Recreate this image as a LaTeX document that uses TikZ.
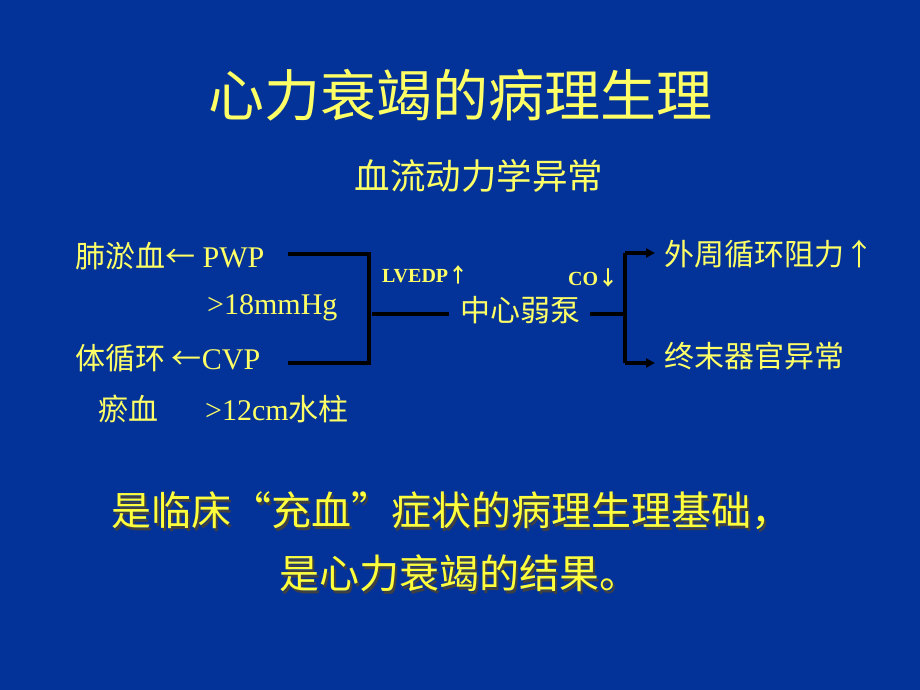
\documentclass[tikz,border=0pt]{standalone}
\usepackage{fontspec}
\setmainfont{Liberation Serif}
\newfontfamily\cjk{Noto Sans CJK SC}[BoldFont={Noto Sans CJK SC Bold}]
\usetikzlibrary{arrows.meta}
\definecolor{bg}{RGB}{3,51,153}
\definecolor{ylw}{RGB}{255,255,102}
\definecolor{ylwb}{RGB}{255,255,60}
\newcommand{\shd}[1]{\makebox[0pt][l]{\hspace{2.5pt}\raisebox{-2.5pt}{\textcolor{black!75}{#1}}}#1}
\begin{document}
\begin{tikzpicture}[x=1pt,y=-1pt,
  title/.style={text=ylw, inner sep=0, font=\fontsize{56}{60}\selectfont\cjk},
  sub/.style={text=ylw, inner sep=0, font=\fontsize{35.5}{40}\selectfont\cjk},
  txt/.style={text=ylw, inner sep=0, anchor=west, font=\fontsize{30}{34}\selectfont},
  lbl/.style={text=ylw, inner sep=0, anchor=west, font=\fontsize{20}{22}\selectfont\bfseries},
  big/.style={text=ylwb, inner sep=0, font=\fontsize{40}{44}\selectfont\cjk},
  ln/.style={black, line width=3.5pt},
  arr/.style={ln, -{Triangle[length=9pt,width=9pt]}}]
\fill[bg] (0,0) rectangle (920,690);
\useasboundingbox (0,0) rectangle (920,690);

\node[title] (t) at (460,95) {心力衰竭的病理生理};
\node[sub] (s) at (479,176) {血流动力学异常};

\node[txt] (pwp) at (75,256) {{\cjk 肺淤血←} PWP};
\node[txt] (mmhg) at (207,308) {>18mmHg};
\node[txt] (cvp) at (75,358) {{\cjk 体循环 ←}CVP};
\node[txt] (yu) at (98,409) {{\cjk 瘀血}};
\node[txt] (cm) at (205,409) {>12cm{\cjk 水柱}};

\node[lbl] (lv) at (382,275) {LVEDP{\cjk ↑}};
\node[lbl] (co) at (568,278) {CO{\cjk ↓}};
\node[txt] (pump) at (460,310) {{\cjk 中心弱泵}};

\node[txt] (r1) at (664,254) {{\cjk 外周循环阻力↑}};
\node[txt] (r2) at (664,356) {{\cjk 终末器官异常}};

\coordinate (a1) at (288,254);
\coordinate (b1) at (369,254);
\coordinate (b2) at (369,363);
\coordinate (a2) at (288,363);
\coordinate (m1) at (372,314);
\coordinate (m2) at (449,314);
\coordinate (p1) at (590,314);
\coordinate (p2) at (625,314);
\coordinate (v1) at (625,253);
\coordinate (v2) at (625,363);
\coordinate (e1) at (655,253);
\coordinate (e2) at (655,363);

\draw[ln] (a1) -- (b1) -- (b2) -- (a2);
\draw[ln] (m1) -- (m2);
\draw[ln] (p1) -- (p2);
\draw[ln] (v2) -- (v1);
\draw[arr] (v1) -- (e1);
\draw[arr] (v2) -- (e2);

\node[big] (bl1) at (451,512) {\shd{是临床“充血”症状的病理生理基础，}};
\node[big] (bl2) at (459,575) {\shd{是心力衰竭的结果。}};
\end{tikzpicture}
\end{document}
